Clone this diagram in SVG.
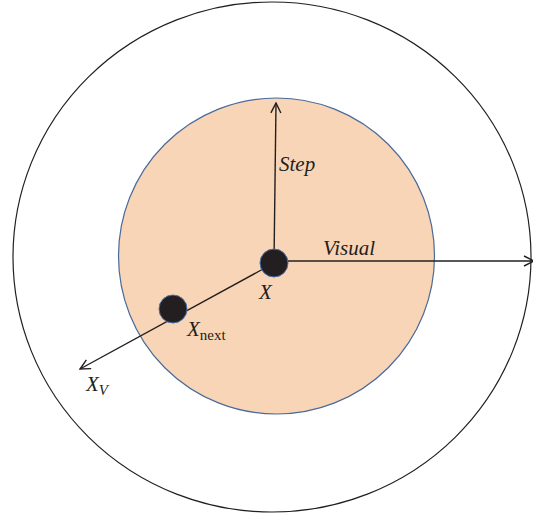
<svg xmlns="http://www.w3.org/2000/svg" width="533" height="515" viewBox="0 0 533 515">
<style>
.lbl{font-family:"Liberation Serif",serif;font-style:italic;font-size:21px;fill:#231f20}
.sub{font-family:"Liberation Serif",serif;font-size:15px;fill:#231f20}
.con{stroke:#231f20;stroke-width:1.4;fill:none}
.node{fill:#231f20;stroke:#4a6fa5;stroke-width:1}
</style>
<defs>
<marker id="ah" viewBox="0 0 12 12" refX="11" refY="6" markerWidth="12" markerHeight="12" markerUnits="userSpaceOnUse" orient="auto">
<path d="M1,1 L11,6 L1,11" fill="none" stroke="#231f20" stroke-width="1.4"/>
</marker>
</defs>
<g id="outer"><ellipse cx="272" cy="257" rx="259" ry="255" fill="none" stroke="#231f20" stroke-width="1.2"/></g>
<g id="inner"><circle cx="276.5" cy="256" r="158" fill="#f9d5b7" stroke="#4a6a9a" stroke-width="1.2"/></g>
<g id="connectors">
<line class="con" x1="274" y1="263" x2="276" y2="103" marker-end="url(#ah)"/>
<line class="con" x1="274" y1="261" x2="534" y2="261" marker-end="url(#ah)"/>
<line class="con" x1="274" y1="263" x2="80" y2="369" marker-end="url(#ah)"/>
</g>
<g id="x"><circle class="node" cx="274" cy="263" r="14"/><text class="lbl" x="259" y="299">X</text></g>
<g id="xnext"><circle class="node" cx="173" cy="309" r="14"/><text class="lbl" x="187" y="336">X<tspan class="sub" font-style="normal" dy="4">next</tspan></text></g>
<g id="xv"><text class="lbl" x="86" y="391">X<tspan font-size="15" dy="4">V</tspan></text></g>
<g id="step"><text class="lbl" x="279" y="171">Step</text></g>
<g id="visual"><text class="lbl" x="323" y="255">Visual</text></g>
</svg>
